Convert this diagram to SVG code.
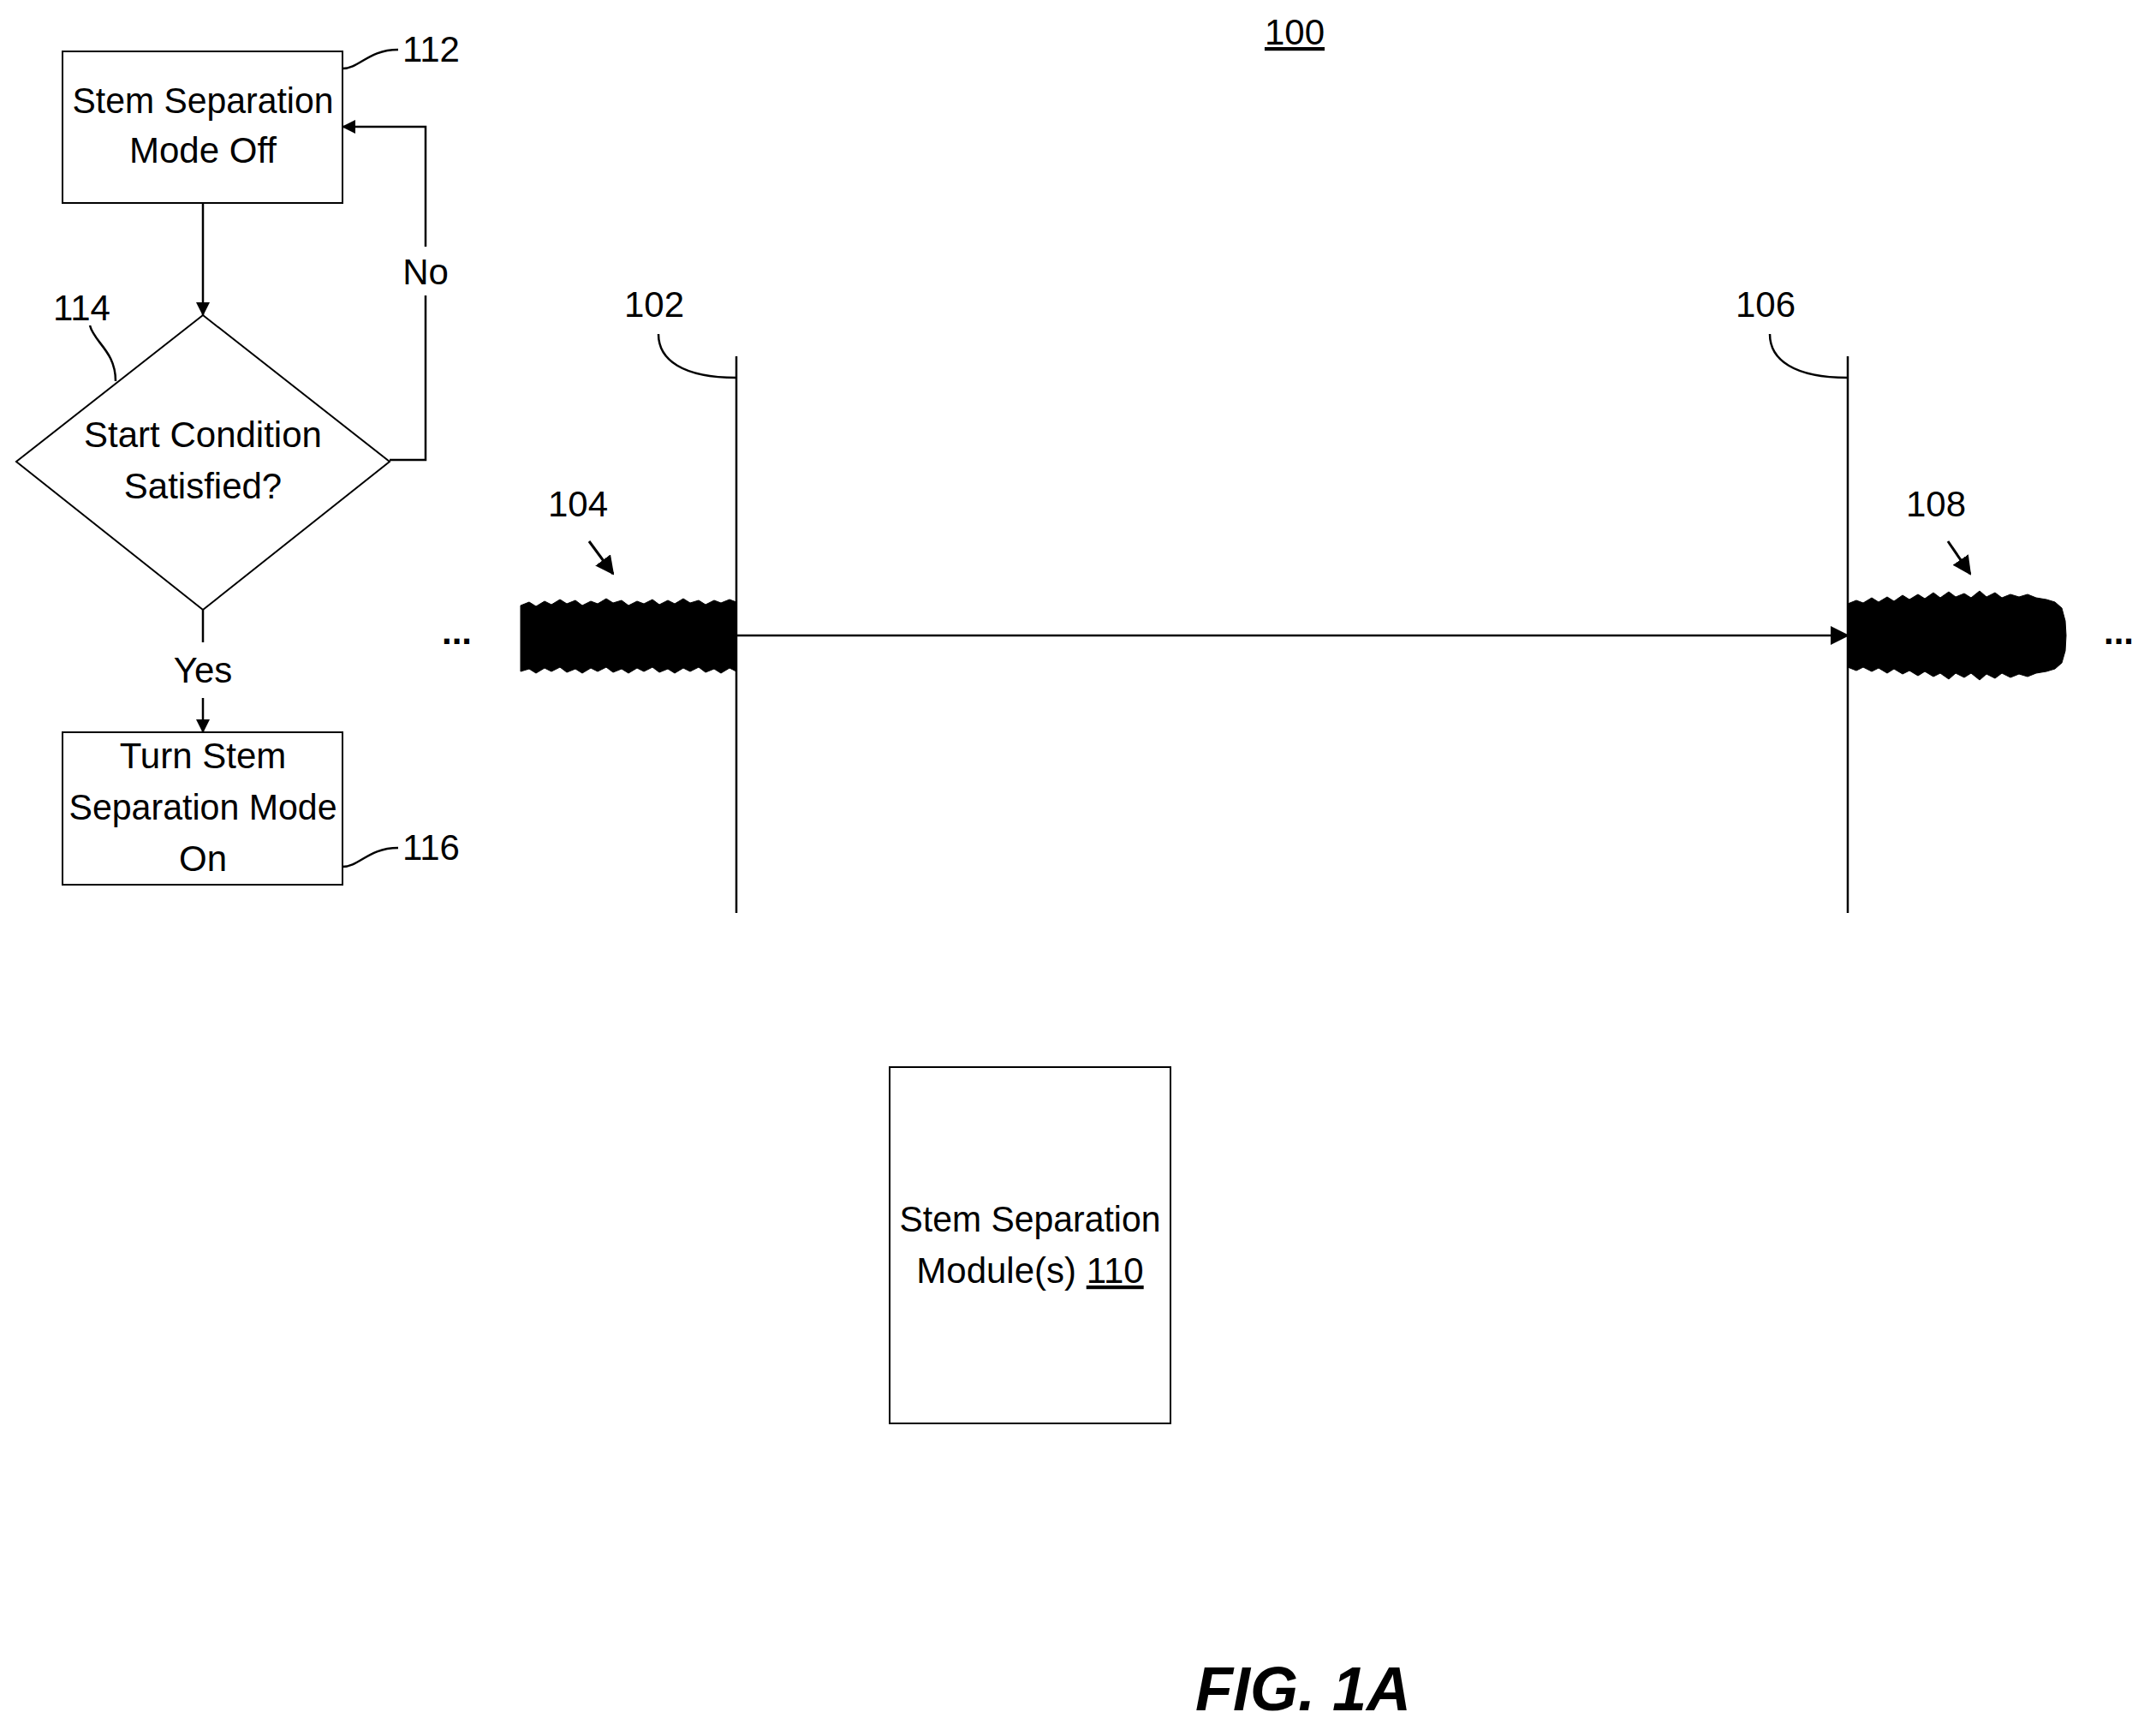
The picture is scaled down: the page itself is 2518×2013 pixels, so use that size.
<svg xmlns="http://www.w3.org/2000/svg" width="2518" height="2013" viewBox="0 0 2518 2013">
<style>
text{font-family:"Liberation Sans",Arial,sans-serif;font-size:42px;fill:#000}
.b{fill:#fff;stroke:#000;stroke-width:2}
.l{fill:none;stroke:#000;stroke-width:2.5}
.w{fill:#000;stroke:#000;stroke-width:1}
</style>
<defs><marker id="a" markerWidth="16" markerHeight="16" refX="15" refY="8" orient="auto" markerUnits="userSpaceOnUse" viewBox="0 0 16 16"><path d="M0,0L16,8L0,16z"/></marker>
<marker id="A" markerWidth="22" markerHeight="22" refX="20" refY="11" orient="auto" markerUnits="userSpaceOnUse" viewBox="0 0 22 22"><path d="M0,0L22,11L0,22z"/></marker></defs>
<text x="1512" y="52" text-anchor="middle" text-decoration="underline">100</text>
<g id="n112"><rect class="b" x="73" y="60" width="327" height="177"/><text x="237" y="132" text-anchor="middle" textLength="305" lengthAdjust="spacingAndGlyphs">Stem Separation</text><text x="237" y="190" text-anchor="middle">Mode Off</text><path class="l" d="M400,80 C420,80 430,58 465,58"/><text x="470" y="72">112</text></g>
<g id="n114"><path class="b" d="M237,368L455,539L237,712L19,539z"/><text x="237" y="522" text-anchor="middle">Start Condition</text><text x="237" y="582" text-anchor="middle">Satisfied?</text><path class="l" d="M105,380 C110,400 135,410 135,445"/><text x="62" y="374">114</text></g>
<g id="n116"><rect class="b" x="73" y="855" width="327" height="178"/><text x="237" y="897" text-anchor="middle">Turn Stem</text><text x="237" y="957" text-anchor="middle" textLength="313" lengthAdjust="spacingAndGlyphs">Separation Mode</text><text x="237" y="1017" text-anchor="middle">On</text><path class="l" d="M400,1012 C420,1012 430,990 465,990"/><text x="470" y="1004">116</text></g>
<g id="n110"><rect class="b" x="1039" y="1246" width="328" height="416"/><text x="1203" y="1438" text-anchor="middle" textLength="305" lengthAdjust="spacingAndGlyphs">Stem Separation</text><text x="1203" y="1498" text-anchor="middle">Module(s) <tspan text-decoration="underline">110</tspan></text></g>
<g id="n102"><line class="l" x1="860" y1="416" x2="860" y2="1066"/><path class="l" d="M769,390 C769,420 797,441 860,441"/><text x="729" y="370">102</text></g>
<g id="n106"><line class="l" x1="2158" y1="416" x2="2158" y2="1066"/><path class="l" d="M2067,390 C2067,420 2095,441 2158,441"/><text x="2027" y="370">106</text></g>
<g id="n104"><path class="w" d="M608,707 L618,703 626,708 636,702 644,706 654,700 662,705 672,701 680,707 690,702 698,705 708,699 716,704 726,701 734,707 744,702 752,705 762,700 770,706 780,701 788,705 798,699 806,704 816,701 824,706 834,701 842,704 852,700 860,703 L860,784 852,780 842,786 834,781 824,785 816,779 806,784 798,780 788,786 780,781 770,785 762,779 752,784 744,780 734,786 726,781 716,785 708,779 698,784 690,780 680,786 672,781 662,785 654,779 644,784 636,780 626,786 618,781 608,784z"/><text x="640" y="603">104</text><line x1="688" y1="632" x2="716" y2="670" stroke="#000" stroke-width="3" marker-end="url(#A)"/><text x="516" y="752" style="font-weight:bold">...</text></g>
<g id="n108"><path class="w" d="M2158,705 L2168,701 2176,704 2186,698 2194,703 2204,697 2212,702 2222,695 2230,700 2240,694 2248,699 2258,692 2266,698 2276,691 2284,697 2294,693 2302,698 2312,690 2320,697 2330,692 2338,698 2348,694 2358,697 2368,694 2378,698 2390,700 2400,703 2408,710 2412,725 2413,742 2412,760 2408,774 2400,781 2390,784 2378,786 2368,790 2358,787 2348,791 2338,786 2330,792 2320,787 2312,794 2302,786 2294,791 2284,786 2276,793 2266,786 2258,790 2248,784 2240,789 2230,783 2222,787 2212,781 2204,786 2194,780 2186,784 2176,779 2168,783 2158,779z"/><text x="2226" y="603">108</text><line x1="2275" y1="632" x2="2301" y2="670" stroke="#000" stroke-width="3" marker-end="url(#A)"/><text x="2457" y="752" style="font-weight:bold">...</text></g>
<g id="connectors">
<line class="l" x1="237" y1="237" x2="237" y2="368" marker-end="url(#a)"/>
<path class="l" d="M455,537H497V345"/>
<path class="l" d="M497,288V148H400" marker-end="url(#a)"/>
<text x="497" y="332" text-anchor="middle">No</text>
<line class="l" x1="237" y1="712" x2="237" y2="750"/>
<text x="237" y="797" text-anchor="middle">Yes</text>
<line class="l" x1="237" y1="815" x2="237" y2="855" marker-end="url(#a)"/>
<line class="l" x1="860" y1="742" x2="2158" y2="742" marker-end="url(#A)"/>
</g>
<text x="1522" y="1997" text-anchor="middle" style="font-size:72px;font-weight:bold;font-style:italic">FIG. 1A</text>
</svg>
